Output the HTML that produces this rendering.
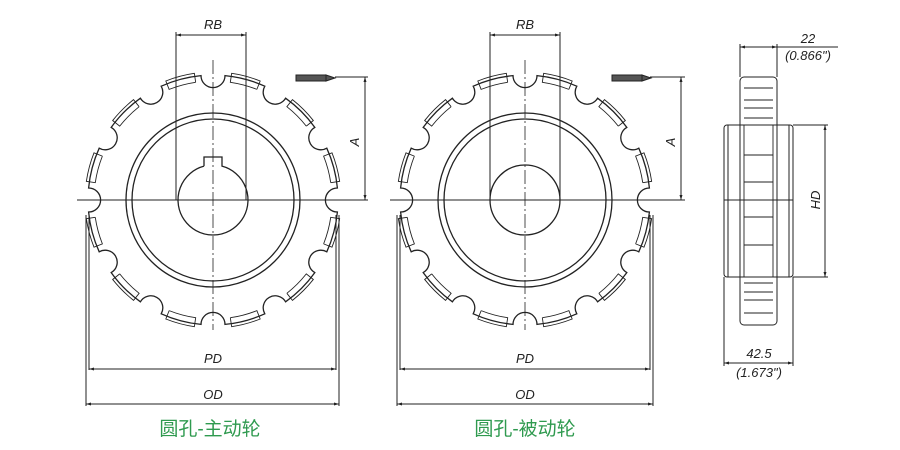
<!DOCTYPE html>
<html><head><meta charset="utf-8">
<style>
html,body{margin:0;padding:0;background:#fff;}
svg{display:block;}
.t{font-family:"Liberation Sans",sans-serif;font-style:italic;font-size:13px;fill:#222;}
.cap{font-family:"Liberation Sans","Noto Sans CJK SC",sans-serif;font-size:19px;fill:#2f9a4f;}
</style></head>
<body>
<svg id="s" width="900" height="450" viewBox="0 0 900 450" xmlns="http://www.w3.org/2000/svg">
<defs>
<marker id="ar" viewBox="0 0 10 10" refX="10" refY="5" markerWidth="7" markerHeight="5" orient="auto-start-reverse"><path d="M0,2 L10,5 L0,8 z" fill="#222"/></marker>
</defs>
<g id="g" stroke="#222" fill="none" stroke-width="1.3"></g>
<g stroke="#222" fill="none" stroke-width="1">
<line x1="176" y1="32" x2="176" y2="200"/><line x1="246" y1="32" x2="246" y2="200"/>
<line x1="176" y1="35" x2="246" y2="35" marker-start="url(#ar)" marker-end="url(#ar)"/>
<line x1="77" y1="200" x2="368" y2="200"/>
<line x1="213" y1="60" x2="213" y2="330" stroke-dasharray="14,3,2,3" stroke-width="0.8"/>
<line x1="335" y1="77" x2="368" y2="77"/>
<line x1="365" y1="77" x2="365" y2="200" marker-start="url(#ar)" marker-end="url(#ar)"/>
<rect x="296" y="75" width="30" height="6" fill="#555"/><path d="M326,75 L335,78 L326,81z" fill="#555"/>
<line x1="86" y1="215" x2="86" y2="406"/><line x1="339" y1="215" x2="339" y2="406"/>
<line x1="89" y1="215" x2="89" y2="370"/><line x1="336" y1="215" x2="336" y2="370"/>
<line x1="89" y1="369" x2="336" y2="369" marker-start="url(#ar)" marker-end="url(#ar)"/>
<line x1="86" y1="404" x2="339" y2="404" marker-start="url(#ar)" marker-end="url(#ar)"/>
<line x1="490" y1="32" x2="490" y2="200"/><line x1="560" y1="32" x2="560" y2="200"/>
<line x1="490" y1="35" x2="560" y2="35" marker-start="url(#ar)" marker-end="url(#ar)"/>
<line x1="390" y1="200" x2="685" y2="200"/>
<line x1="525" y1="60" x2="525" y2="330" stroke-dasharray="14,3,2,3" stroke-width="0.8"/>
<line x1="650" y1="77" x2="685" y2="77"/>
<line x1="681" y1="77" x2="681" y2="200" marker-start="url(#ar)" marker-end="url(#ar)"/>
<rect x="612" y="75" width="30" height="6" fill="#555"/><path d="M642,75 L651,78 L642,81z" fill="#555"/>
<line x1="397" y1="215" x2="397" y2="406"/><line x1="653" y1="215" x2="653" y2="406"/>
<line x1="400" y1="215" x2="400" y2="370"/><line x1="650" y1="215" x2="650" y2="370"/>
<line x1="400" y1="369" x2="650" y2="369" marker-start="url(#ar)" marker-end="url(#ar)"/>
<line x1="397" y1="404" x2="653" y2="404" marker-start="url(#ar)" marker-end="url(#ar)"/>
<rect x="740" y="77" width="37" height="248" rx="4"/>
<rect x="724" y="125" width="69" height="152" rx="3"/>
<line x1="728" y1="125" x2="728" y2="277"/><line x1="789" y1="125" x2="789" y2="277"/>
<line x1="724" y1="200" x2="793" y2="200"/>
<g stroke-width="0.9">
<line x1="744" y1="88" x2="773" y2="88"/><line x1="744" y1="100" x2="773" y2="100"/>
<line x1="744" y1="108" x2="773" y2="108"/><line x1="744" y1="118" x2="773" y2="118"/>
<line x1="744" y1="155" x2="773" y2="155"/><line x1="744" y1="182" x2="773" y2="182"/>
<line x1="744" y1="217" x2="773" y2="217"/><line x1="744" y1="245" x2="773" y2="245"/>
<line x1="744" y1="283" x2="773" y2="283"/><line x1="744" y1="292" x2="773" y2="292"/>
<line x1="744" y1="300" x2="773" y2="300"/><line x1="744" y1="313" x2="773" y2="313"/>
<line x1="744" y1="125" x2="744" y2="277"/><line x1="773" y1="125" x2="773" y2="277"/>
</g>
<line x1="740" y1="44" x2="740" y2="77"/><line x1="777" y1="44" x2="777" y2="77"/>
<line x1="740" y1="47" x2="777" y2="47" marker-start="url(#ar)" marker-end="url(#ar)"/>
<line x1="777" y1="47" x2="838" y2="47"/>
<line x1="793" y1="125" x2="828" y2="125"/><line x1="793" y1="277" x2="828" y2="277"/>
<line x1="825" y1="125" x2="825" y2="277" marker-start="url(#ar)" marker-end="url(#ar)"/>
<line x1="724" y1="277" x2="724" y2="366"/><line x1="793" y1="277" x2="793" y2="366"/>
<line x1="724" y1="363" x2="793" y2="363" marker-start="url(#ar)" marker-end="url(#ar)"/>
</g>
<text class="t" x="213" y="29" text-anchor="middle">RB</text>
<text class="t" x="525" y="29" text-anchor="middle">RB</text>
<text class="t" x="0" y="0" text-anchor="middle" transform="translate(359,142) rotate(-90)">A</text>
<text class="t" x="0" y="0" text-anchor="middle" transform="translate(675,142) rotate(-90)">A</text>
<text class="t" x="213" y="363" text-anchor="middle">PD</text>
<text class="t" x="213" y="399" text-anchor="middle">OD</text>
<text class="t" x="525" y="363" text-anchor="middle">PD</text>
<text class="t" x="525" y="399" text-anchor="middle">OD</text>
<text class="t" x="808" y="43" text-anchor="middle">22</text>
<text class="t" x="808" y="60" text-anchor="middle">(0.866")</text>
<text class="t" x="0" y="0" text-anchor="middle" transform="translate(820,200) rotate(-90)">HD</text>
<text class="t" x="759" y="358" text-anchor="middle">42.5</text>
<text class="t" x="759" y="377" text-anchor="middle">(1.673")</text>
<text class="cap" x="210" y="435" text-anchor="middle">圆孔-主动轮</text>
<text class="cap" x="525" y="435" text-anchor="middle">圆孔-被动轮</text>
</svg>
<script>
(function(){
var g=document.getElementById('g'),NS='http://www.w3.org/2000/svg';
function el(t,a){var e=document.createElementNS(NS,t);for(var k in a)e.setAttribute(k,a[k]);g.appendChild(e);return e;}
function gear(cx,cy,key){
 var R=125,pr=12,d='';
 for(var i=0;i<12;i++){
  var a=i*Math.PI/6, ha=Math.asin(pr/R);
  var p1=[cx+R*Math.cos(a+ha),cy-R*Math.sin(a+ha)];
  var a2=(i+1)*Math.PI/6-ha;
  var p2=[cx+R*Math.cos(a2),cy-R*Math.sin(a2)];
  var p0=[cx+R*Math.cos(a-ha),cy-R*Math.sin(a-ha)];
  if(i==0)d+='M'+p0[0].toFixed(1)+','+p0[1].toFixed(1);
  d+=' A'+pr+','+pr+' 0 0 1 '+p1[0].toFixed(1)+','+p1[1].toFixed(1);
  d+=' A'+R+','+R+' 0 0 0 '+p2[0].toFixed(1)+','+p2[1].toFixed(1);
  var b1=a+ha+0.05,b2=a2-0.05,r1=R-6,r2=R+3;
  var pd='M'+(cx+r1*Math.cos(b1))+','+(cy-r1*Math.sin(b1))+' L'+(cx+r2*Math.cos(b1))+','+(cy-r2*Math.sin(b1))+
   ' A'+r2+','+r2+' 0 0 0 '+(cx+r2*Math.cos(b2))+','+(cy-r2*Math.sin(b2))+' L'+(cx+r1*Math.cos(b2))+','+(cy-r1*Math.sin(b2))+
   ' A'+r1+','+r1+' 0 0 1 '+(cx+r1*Math.cos(b1))+','+(cy-r1*Math.sin(b1));
  el('path',{d:pd,'stroke-width':0.9});
 }
 d+='Z';el('path',{d:d});
 el('circle',{cx:cx,cy:cy,r:87});el('circle',{cx:cx,cy:cy,r:81});
 if(key){
  var r=35,hw=9,yk=cy-43,ang=Math.asin(hw/r),y0=cy-r*Math.cos(ang);
  el('path',{d:'M'+(cx-hw)+','+y0+' L'+(cx-hw)+','+yk+' L'+(cx+hw)+','+yk+' L'+(cx+hw)+','+y0+' A'+r+','+r+' 0 1 1 '+(cx-hw)+','+y0});
 } else el('circle',{cx:cx,cy:cy,r:35});
}
gear(213,200,true);gear(525,200,false);
})();
</script>
</body></html>
